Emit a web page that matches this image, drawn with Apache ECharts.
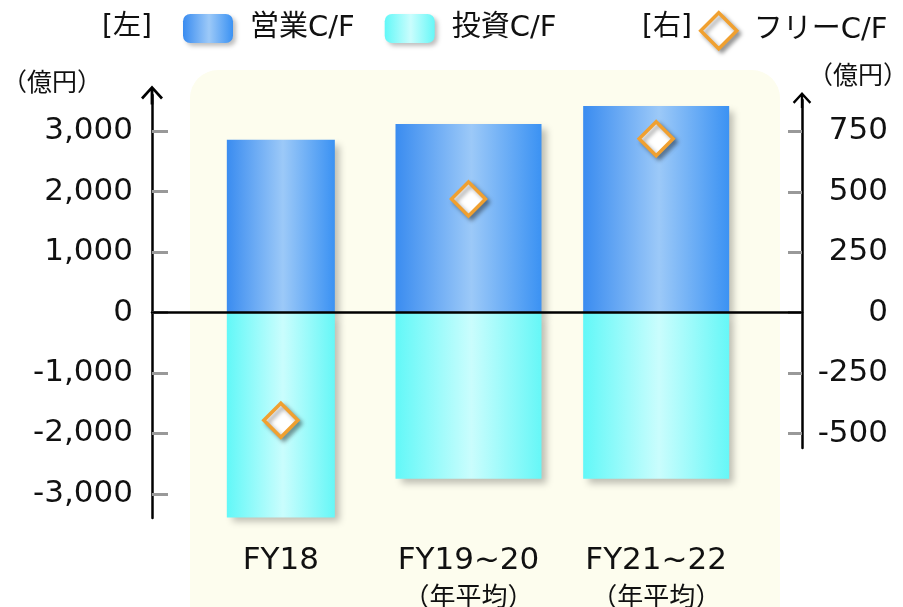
<!DOCTYPE html>
<html><head><meta charset="utf-8">
<script src="https://cdn.jsdelivr.net/npm/echarts@6/dist/echarts.min.js"></script>
<style>html,body{margin:0;padding:0;background:#fff}#c{width:903px;height:607px}</style>
</head><body><div id="c"></div>
<script>
// ---- data ----
const categories = ['FY18', 'FY19~20', 'FY21~22'];
const subLabels = ['', '（年平均）', '（年平均）'];
const operatingCF = [2860, 3120, 3420];   // 左軸
const investingCF = [-3390, -2750, -2750]; // 左軸
const freeCF = [-445, 470, 720];           // 右軸
const leftTicks = [-3000, -2000, -1000, 0, 1000, 2000, 3000];
const rightTicks = [-500, -250, 0, 250, 500, 750];
const narrowCats = ['FY18'];

// ---- styles ----
const FONT = '"DejaVu Sans", "Noto Sans CJK JP", sans-serif';
const ARROW = 'path://M11,0 L22,12 L20,14 L12.4,5.5 L12.4,19 L9.6,19 L9.6,5.5 L2,14 L0,12 Z';
const blueGrad = new echarts.graphic.LinearGradient(0, 0, 1, 0, [
  {offset: 0, color: '#3a8cf0'}, {offset: 0.52, color: '#9cc9f8'}, {offset: 1, color: '#3b92f3'}]);
const cyanGrad = new echarts.graphic.LinearGradient(0, 0, 1, 0, [
  {offset: 0, color: '#62f8f8'}, {offset: 0.52, color: '#cafdfd'}, {offset: 1, color: '#66f7f7'}]);
const shadow = {shadowBlur: 7, shadowOffsetX: 5, shadowOffsetY: 5, shadowColor: 'rgba(0,0,0,0.25)'};
const diamondStyle = {color: '#ffffff', borderColor: '#F0A030', borderWidth: 3.5,
  shadowBlur: 4, shadowOffsetX: 3, shadowOffsetY: 3, shadowColor: 'rgba(0,0,0,0.35)'};
const fmt = v => Number(v).toLocaleString('en-US');

const isNarrow = i => narrowCats.indexOf(categories[i]) >= 0;
const pick = (arr, narrow) => arr.map((v, i) => (isNarrow(i) === narrow ? v : '-'));

const chart = echarts.init(document.getElementById('c'), null, {renderer: 'canvas'});
chart.setOption({
  animation: false,
  textStyle: {fontFamily: FONT, color: '#111'},
  graphic: [
    {type: 'rect', z: -10, silent: true, shape: {x: 190, y: 70, width: 590, height: 580, r: 28}, style: {fill: '#FDFDEE'}},
    {type: 'text', x: 102, y: 28, style: {text: '[左]', fontSize: 28, fontFamily: FONT, fill: '#111', verticalAlign: 'middle'}},
    {type: 'text', x: 642, y: 28, style: {text: '[右]', fontSize: 28, fontFamily: FONT, fill: '#111', verticalAlign: 'middle'}},
    {type: 'text', x: 52, y: 84, style: {text: '（億円）', fontSize: 25, fontFamily: FONT, fill: '#111', align: 'center', verticalAlign: 'middle'}},
    {type: 'text', x: 858, y: 77, style: {text: '（億円）', fontSize: 25, fontFamily: FONT, fill: '#111', align: 'center', verticalAlign: 'middle'}}
  ],
  legend: [
    {left: 183, top: 14, padding: 0, itemWidth: 50, itemHeight: 29, itemGap: 30,
     data: ['営業C/F', '投資C/F'],
     itemStyle: {shadowBlur: 4, shadowOffsetX: 3, shadowOffsetY: 3, shadowColor: 'rgba(0,0,0,0.25)'},
     textStyle: {fontSize: 29, fontFamily: FONT, color: '#111', padding: [0, 0, 0, 12]}},
    {left: 699, top: 11, padding: 0, itemWidth: 36, itemHeight: 36,
     data: [{name: 'フリーC/F', icon: 'diamond', itemStyle: diamondStyle}],
     textStyle: {fontSize: 29, fontFamily: FONT, color: '#111', padding: [0, 0, 0, 12]}}
  ],
  grid: [
    {left: 187, right: 153, top: 95, bottom: 89, outerBoundsMode: 'none', containLabel: false},
    {left: 152, right: 101, top: 95, bottom: 89, outerBoundsMode: 'none', containLabel: false},
    {left: 187, right: 153, top: 100, bottom: 159, outerBoundsMode: 'none', containLabel: false}
  ],
  xAxis: [
    {type: 'category', gridIndex: 0, data: categories,
     axisLine: {show: false, onZero: false}, axisTick: {show: false},
     axisLabel: {margin: 24, interval: 0,
       formatter: (v, i) => subLabels[i] ? `{a|${v}}\n{b|${subLabels[i]}}` : `{a|${v}}`,
       rich: {a: {fontSize: 31, lineHeight: 38, fontFamily: FONT, color: '#111'},
              b: {fontSize: 26, lineHeight: 38, fontFamily: FONT, color: '#111'}}}},
    {type: 'category', gridIndex: 1, data: categories, z: 10,
     axisLine: {show: true, onZero: true, lineStyle: {color: '#000', width: 2.5}},
     axisTick: {show: false}, axisLabel: {show: false}},
    {type: 'category', gridIndex: 2, data: categories, show: false, axisLine: {onZero: false}},
    {type: 'category', gridIndex: 0, data: categories, show: false, axisLine: {onZero: false}}
  ],
  yAxis: [
    {type: 'value', gridIndex: 0, position: 'left', offset: 35, min: -3400, max: 3600,
     splitLine: {show: false},
     axisLine: {show: true, symbol: ['none', ARROW], symbolSize: [22, 19], lineStyle: {color: '#000', width: 2.5}},
     axisTick: {show: true, inside: true, length: 16, customValues: leftTicks, lineStyle: {color: '#999', width: 3}},
     axisLabel: {margin: 19, fontSize: 31, fontFamily: FONT, color: '#111', customValues: leftTicks, formatter: fmt}},
    {type: 'value', gridIndex: 1, min: -3400, max: 3600, show: false},
    {type: 'value', gridIndex: 2, position: 'right', offset: 52, min: -560, max: 880,
     splitLine: {show: false},
     axisLine: {show: true, symbol: ['none', ARROW], symbolSize: [20, 16], lineStyle: {color: '#000', width: 2.5}},
     axisTick: {show: true, inside: true, length: 14, customValues: rightTicks, lineStyle: {color: '#999', width: 3}},
     axisLabel: {margin: 86, align: 'right', fontSize: 31, fontFamily: FONT, color: '#111', customValues: rightTicks, formatter: fmt}}
  ],
  series: [
    {name: '営業C/F', type: 'bar', xAxisIndex: 0, yAxisIndex: 0, barWidth: 146, barGap: '-100%',
     data: pick(operatingCF, false), itemStyle: Object.assign({color: blueGrad}, shadow)},
    {name: '投資C/F', type: 'bar', xAxisIndex: 0, yAxisIndex: 0, barWidth: 146, barGap: '-100%',
     data: pick(investingCF, false), itemStyle: Object.assign({color: cyanGrad}, shadow)},
    {name: '営業C/F', type: 'bar', xAxisIndex: 3, yAxisIndex: 0, barWidth: 108, barGap: '-100%',
     data: pick(operatingCF, true), itemStyle: Object.assign({color: blueGrad}, shadow)},
    {name: '投資C/F', type: 'bar', xAxisIndex: 3, yAxisIndex: 0, barWidth: 108, barGap: '-100%',
     data: pick(investingCF, true), itemStyle: Object.assign({color: cyanGrad}, shadow)},
    {name: 'フリーC/F', type: 'line', xAxisIndex: 2, yAxisIndex: 2, z: 10,
     data: freeCF, symbol: 'diamond', symbolSize: 34,
     lineStyle: {width: 0, opacity: 0},
     itemStyle: diamondStyle}
  ]
});
</script></body></html>
